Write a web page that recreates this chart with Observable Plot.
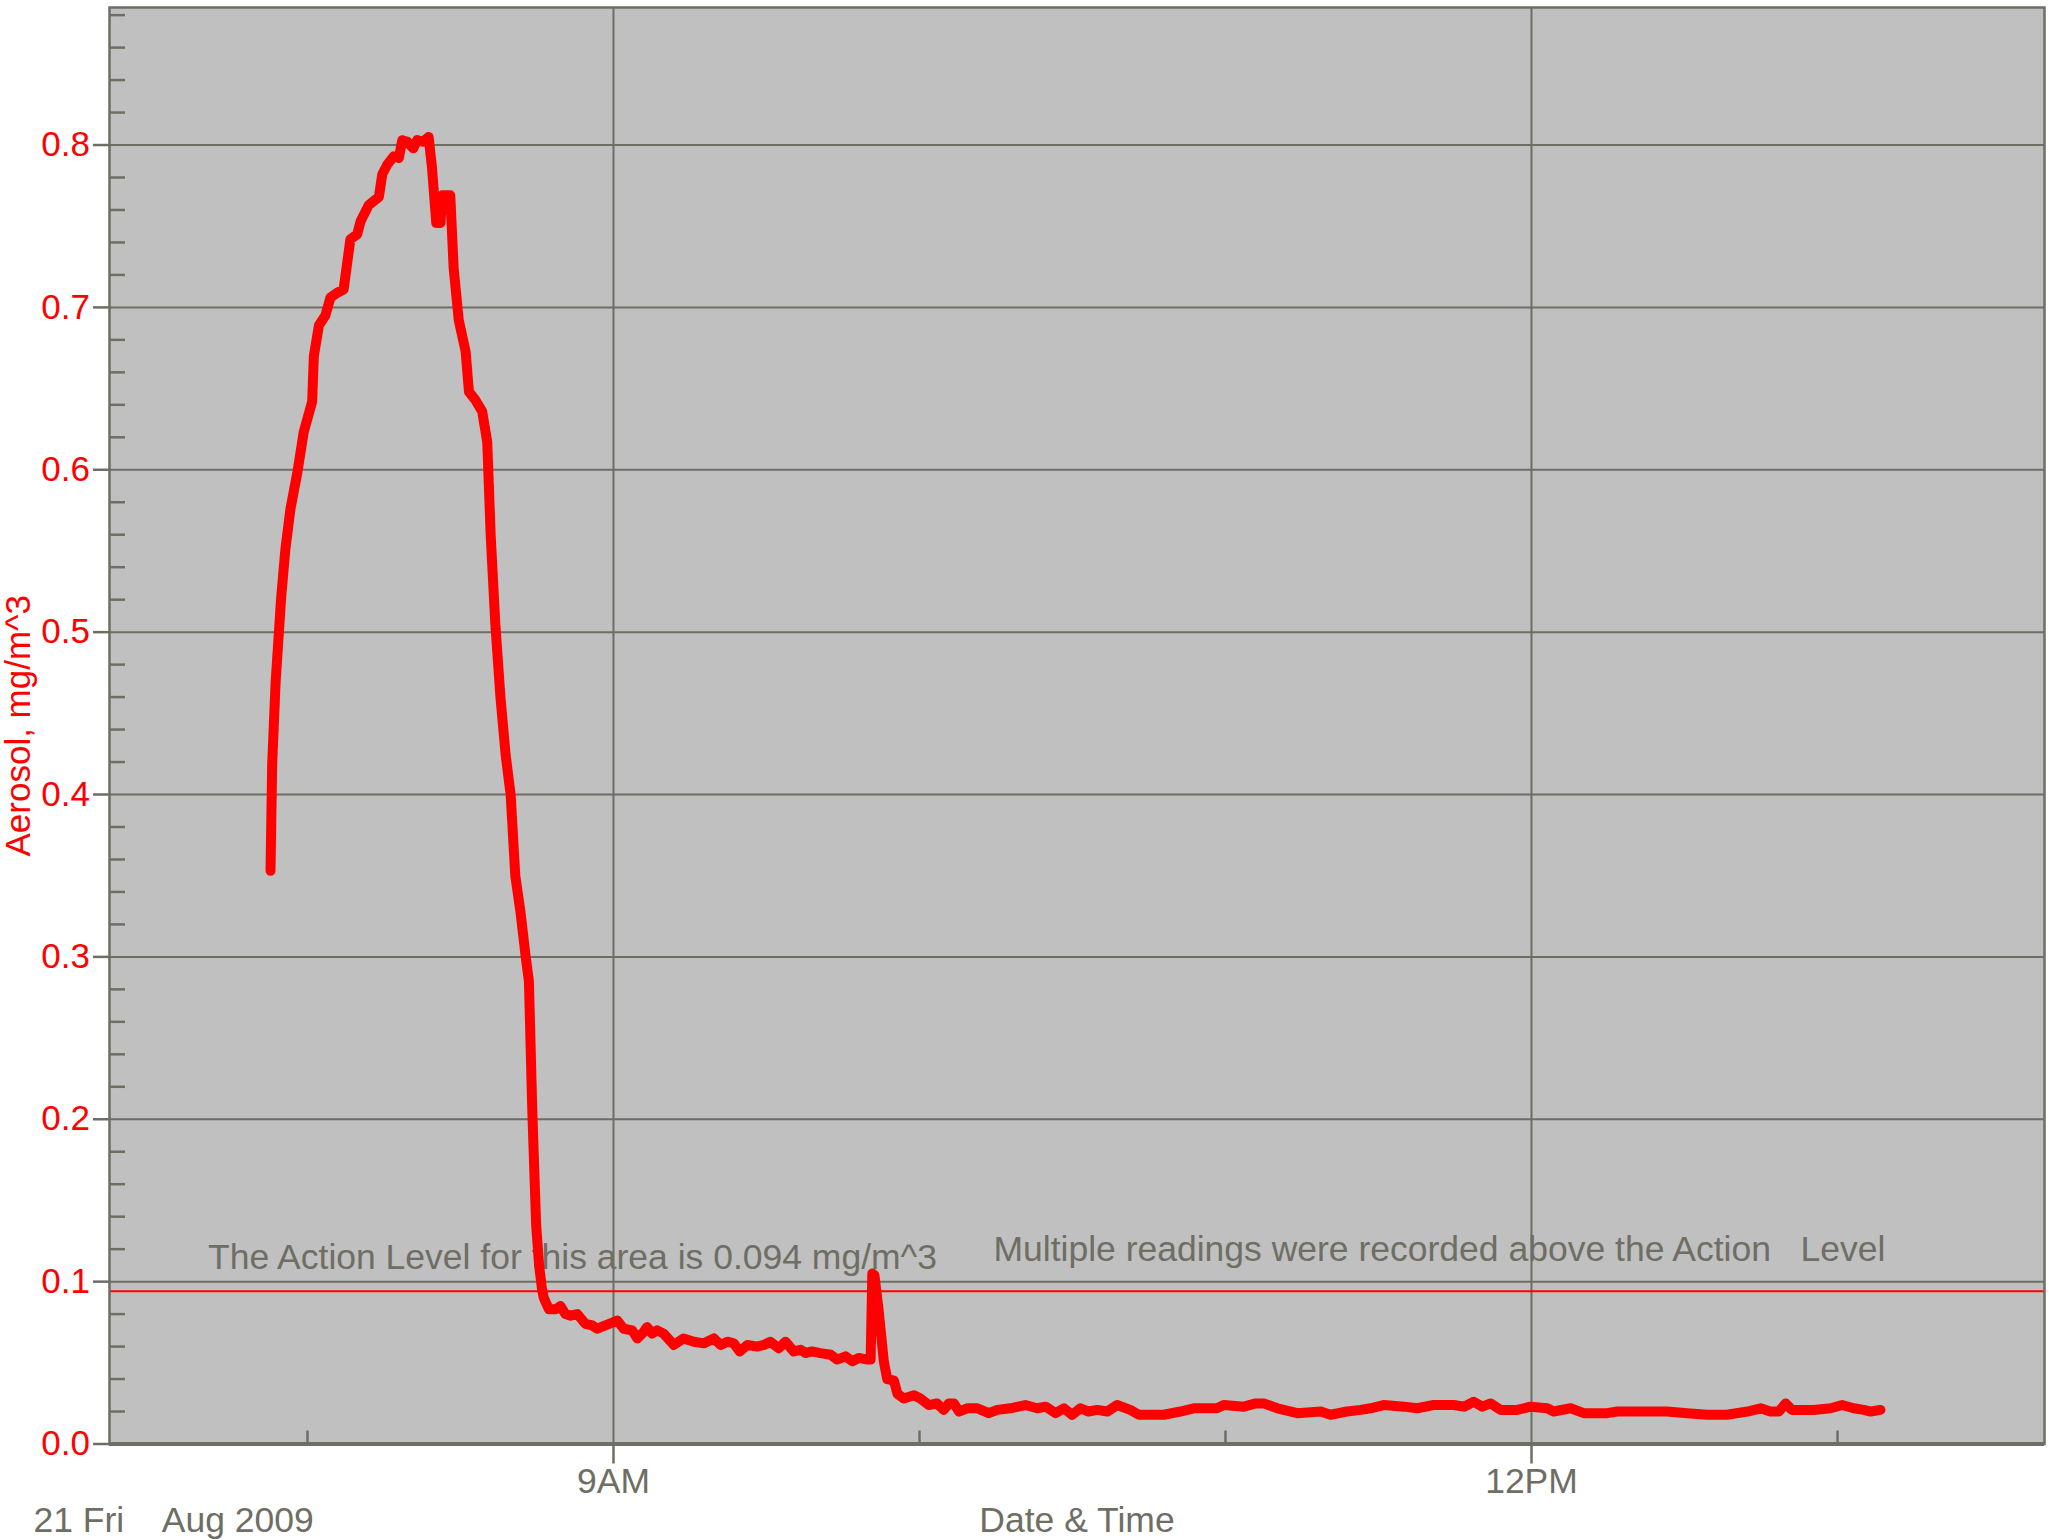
<!DOCTYPE html>
<html>
<head>
<meta charset="utf-8">
<script src="https://cdn.jsdelivr.net/npm/d3@7"></script>
<script src="https://cdn.jsdelivr.net/npm/@observablehq/plot@0.6"></script>
<style>
  html, body { margin: 0; padding: 0; background: #ffffff; }
  svg text { white-space: pre; }
</style>
</head>
<body>
<div id="chart"></div>
<script>
// ---- data ----
const times = [
  "07:52:45","07:53:05","07:53:45","07:54:50","07:55:40","07:56:40","07:58:00","07:59:15","08:00:55","08:01:15",
  "08:02:15","08:03:30","08:04:30","08:05:50","08:07:05","08:08:25","08:09:45","08:10:25","08:12:00","08:14:00",
  "08:14:40","08:15:40","08:16:55","08:17:55","08:18:35","08:19:35","08:20:45","08:21:30","08:22:40","08:23:45",
  "08:24:25","08:25:15","08:26:05","08:26:25","08:28:00","08:28:40","08:29:40","08:31:00","08:31:40","08:32:55",
  "08:34:15","08:35:15","08:35:55","08:36:50","08:37:50","08:38:50","08:39:50","08:40:45","08:41:45","08:42:45",
  "08:43:25","08:44:05","08:44:50","08:45:25","08:46:00","08:46:20","08:47:20","08:48:40","08:49:35","08:50:35",
  "08:51:35","08:52:55","08:54:30","08:55:50","08:56:50","08:58:25","09:00:45","09:02:00","09:03:40","09:04:40",
  "09:05:55","09:06:35","09:07:35","09:08:35","09:09:50","09:11:50","09:13:45","09:15:45","09:17:45","09:19:40",
  "09:21:00","09:22:20","09:23:35","09:24:45","09:26:15","09:28:10","09:29:30","09:30:45","09:32:25","09:33:45",
  "09:35:20","09:36:40","09:37:40","09:38:55","09:40:35","09:42:35","09:43:50","09:45:30","09:46:50","09:48:05",
  "09:49:45","09:50:25","09:50:45","09:51:10","09:52:00","09:53:00","09:53:40","09:55:00","09:55:40","09:56:55",
  "09:58:55","10:00:10","10:01:50","10:03:25","10:04:45","10:05:45","10:06:45","10:07:45","10:09:20","10:11:20",
  "10:13:35","10:15:15","10:17:50","10:20:45","10:23:05","10:24:45","10:26:40","10:28:20","10:29:55","10:31:35",
  "10:33:10","10:34:50","10:36:50","10:38:45","10:41:20","10:43:00","10:47:55","10:51:10","10:53:45","10:58:20",
  "10:59:40","11:03:35","11:05:55","11:07:30","11:10:10","11:14:05","11:18:40","11:20:35","11:23:50","11:26:30",
  "11:28:25","11:31:00","11:35:00","11:37:35","11:40:50","11:44:45","11:46:45","11:48:40","11:50:20","11:52:00",
  "11:53:55","11:57:10","11:59:50","12:03:05","12:04:20","12:07:40","12:10:15","12:14:50","12:16:50","12:24:00",
  "12:26:35","12:30:30","12:34:25","12:38:20","12:42:20","12:44:55","12:46:50","12:48:30","12:49:50","12:51:05",
  "12:55:20","12:58:40","13:00:55","13:03:10","13:05:10","13:06:30","13:08:25"
];
const aerosol = [
  0.353,0.419,0.469,0.521,0.551,0.576,0.598,0.623,0.642,0.670,
  0.689,0.695,0.706,0.709,0.711,0.742,0.745,0.753,0.763,0.768,
  0.782,0.788,0.793,0.792,0.803,0.802,0.798,0.803,0.802,0.805,
  0.786,0.752,0.752,0.769,0.769,0.724,0.692,0.673,0.648,0.643,
  0.636,0.617,0.560,0.505,0.460,0.425,0.400,0.350,0.328,0.301,
  0.285,0.205,0.135,0.110,0.095,0.090,0.083,0.083,0.085,0.080,
  0.079,0.080,0.074,0.073,0.071,0.073,0.076,0.071,0.070,0.065,
  0.069,0.072,0.068,0.070,0.068,0.061,0.065,0.063,0.062,0.065,
  0.061,0.063,0.062,0.057,0.061,0.060,0.061,0.063,0.059,0.063,
  0.057,0.058,0.056,0.057,0.056,0.055,0.052,0.054,0.051,0.053,
  0.052,0.052,0.105,0.104,0.082,0.051,0.040,0.039,0.031,0.028,
  0.030,0.028,0.024,0.025,0.021,0.025,0.025,0.020,0.022,0.022,
  0.019,0.021,0.022,0.024,0.022,0.023,0.019,0.022,0.018,0.022,
  0.020,0.021,0.020,0.024,0.021,0.018,0.018,0.020,0.022,0.022,
  0.024,0.023,0.025,0.025,0.022,0.019,0.020,0.018,0.020,0.021,
  0.022,0.024,0.023,0.022,0.024,0.024,0.023,0.026,0.023,0.025,
  0.021,0.021,0.023,0.022,0.020,0.022,0.019,0.019,0.020,0.020,
  0.020,0.019,0.018,0.018,0.020,0.022,0.020,0.020,0.025,0.021,
  0.021,0.022,0.024,0.022,0.021,0.020,0.021
];
const actionLevel = 0.094;
const xDomainTimes = ["07:21:11", "13:40:35"];
const yDomain = [0, 0.8847];
const majorXTimes = ["09:00:00", "12:00:00"];
const minorXTimes = ["08:00:00", "10:00:00", "11:00:00", "13:00:00"];
const majorY = [0, 0.1, 0.2, 0.3, 0.4, 0.5, 0.6, 0.7, 0.8];
const minorY = [0.02,0.04,0.06,0.08,0.12,0.14,0.16,0.18,0.22,0.24,0.26,0.28,0.32,0.34,0.36,0.38,
                0.42,0.44,0.46,0.48,0.52,0.54,0.56,0.58,0.62,0.64,0.66,0.68,0.72,0.74,0.76,0.78,
                0.82,0.84,0.86,0.88];
const yLabel = "Aerosol, mg/m^3";
const dateLabel = "21 Fri    Aug 2009";
const xLabel = "Date & Time";
const annotations = [
  {time: "07:40:30", value: 0.108, text: "The Action Level for this area is 0.094 mg/m^3"},
  {time: "10:14:30", value: 0.1124, text: "Multiple readings were recorded above the Action   Level"}
];

// ---- build ----
const parseT = s => {
  const [h, m, sec] = s.split(":").map(Number);
  return new Date(Date.UTC(2009, 7, 21, h, m, sec));
};
const series = times.map((t, i) => ({time: parseT(t), value: aerosol[i]}));
const notes = annotations.map(a => ({...a, date: parseT(a.time)}));

const GRAY = "#6e6e64";
const RED = "#ff0000";
const fmtHour = d3.utcFormat("%-I%p");

const chart = Plot.plot({
  width: 2049,
  height: 1540,
  marginLeft: 109,
  marginRight: 5,
  marginTop: 7,
  marginBottom: 96.5,
  style: {fontFamily: "'Liberation Sans', Arial, sans-serif", background: "#ffffff", overflow: "visible"},
  x: {type: "utc", domain: xDomainTimes.map(parseT)},
  y: {domain: yDomain},
  marks: [
    Plot.frame({fill: "#c0c0c0"}),
    Plot.gridY(majorY.filter(d => d > 0), {stroke: GRAY, strokeOpacity: 1, strokeWidth: 2}),
    Plot.gridX(majorXTimes.map(parseT), {stroke: GRAY, strokeOpacity: 1, strokeWidth: 2}),
    Plot.ruleY([actionLevel], {stroke: RED, strokeWidth: 2}),
    Plot.text(notes, {x: "date", y: "value", text: "text", textAnchor: "start", lineAnchor: "bottom",
      fill: GRAY, fontSize: 35.5}),
    Plot.axisY(majorY, {tickSize: 16, tickPadding: 3.5, stroke: GRAY, strokeWidth: 2.5, fill: RED,
      fontSize: 35, tickFormat: d3.format(".1f"), label: null}),
    Plot.axisY(minorY, {tickSize: -16, text: null, stroke: GRAY, strokeWidth: 2.5, label: null}),
    Plot.axisX(majorXTimes.map(parseT), {tickSize: 20, tickPadding: 4, stroke: GRAY, strokeWidth: 2.5,
      fill: GRAY, fontSize: 35.5, tickFormat: fmtHour, label: null}),
    Plot.axisX(minorXTimes.map(parseT), {tickSize: -13, text: null, stroke: GRAY, strokeWidth: 2.5, label: null}),
    Plot.line(series, {x: "time", y: "value", stroke: RED, strokeWidth: 10,
      strokeLinejoin: "round", strokeLinecap: "round"}),
    Plot.frame({stroke: GRAY, strokeWidth: 2.5}),
    Plot.ruleY([0], {stroke: GRAY, strokeWidth: 4}),
    Plot.text([yLabel], {frameAnchor: "left", dx: -91, rotate: -90, textAnchor: "middle",
      lineAnchor: "middle", fill: RED, fontSize: 35}),
    Plot.text([dateLabel], {frameAnchor: "bottom-left", dx: -76, dy: 88, textAnchor: "start",
      lineAnchor: "bottom", fill: GRAY, fontSize: 35.5}),
    Plot.text([xLabel], {frameAnchor: "bottom", dy: 88, textAnchor: "middle", lineAnchor: "bottom",
      fill: GRAY, fontSize: 35.5})
  ]
});
document.getElementById("chart").appendChild(chart);
</script>
</body>
</html>
